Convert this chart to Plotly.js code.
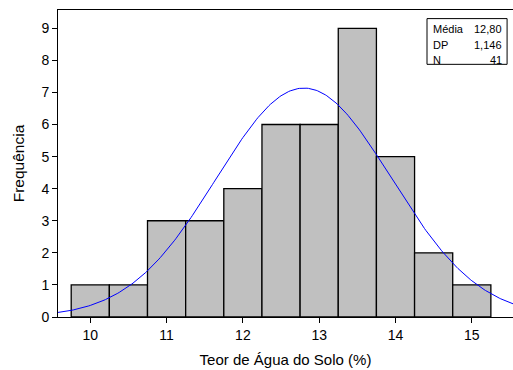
<!DOCTYPE html>
<html>
<head>
<meta charset="utf-8">
<script src="https://cdn.plot.ly/plotly-3.0.1.min.js"></script>
<style>
  html, body { margin: 0; padding: 0; background: #fff; }
  #chart { width: 513px; height: 370px; }
</style>
</head>
<body>
<div id="chart"></div>
<script>
// Histogram of soil water content (%) with fitted normal curve
const binCenters = [10, 10.5, 11, 11.5, 12, 12.5, 13, 13.5, 14, 14.5, 15];
const counts     = [1, 1, 3, 3, 4, 6, 6, 9, 5, 2, 1];
const binWidth = 0.5;

// Summary statistics shown in the box
const statLabels = ['Média', 'DP', 'N'];
const statValues = ['12,80', '1,146', '41'];
const mean = 12.80;
const sd = 1.146;
const n = 41;

const xTicks = [10, 11, 12, 13, 14, 15];
const yTicks = [0, 1, 2, 3, 4, 5, 6, 7, 8, 9];

// Normal density scaled to counts per bin
const curveX = [];
const curveY = [];
for (let x = 9.5; x <= 15.7; x += 0.02) {
  const z = (x - mean) / sd;
  curveX.push(x);
  curveY.push(n * binWidth * Math.exp(-0.5 * z * z) / (sd * Math.sqrt(2 * Math.PI)));
}

const font = 'Liberation Sans, Arial, Helvetica, sans-serif';

const traces = [
  {
    type: 'bar',
    x: binCenters,
    y: counts,
    width: binWidth,
    marker: { color: '#c0c0c0', line: { color: '#000', width: 1.3 } },
    hoverinfo: 'x+y'
  },
  {
    type: 'scatter',
    mode: 'lines',
    x: curveX,
    y: curveY,
    line: { color: '#0000ff', width: 1 },
    hoverinfo: 'skip'
  }
];

const annotations = [];
const rowY = [0.937, 0.887, 0.838];
statLabels.forEach((lab, i) => {
  annotations.push({
    xref: 'paper', yref: 'paper', x: 0.82, y: rowY[i],
    xanchor: 'left', yanchor: 'middle', showarrow: false,
    text: lab, font: { family: font, size: 11, color: '#000' }
  });
  annotations.push({
    xref: 'paper', yref: 'paper', x: 0.98, y: rowY[i],
    xanchor: 'right', yanchor: 'middle', showarrow: false,
    text: statValues[i], font: { family: font, size: 11, color: '#000' }
  });
});

const layout = {
  width: 513,
  height: 370,
  margin: { l: 58, r: 0, t: 10, b: 53 },
  paper_bgcolor: '#fff',
  plot_bgcolor: '#fff',
  showlegend: false,
  bargap: 0,
  font: { family: font, size: 14, color: '#000' },
  xaxis: {
    range: [9.577, 15.54],
    tickvals: xTicks,
    ticktext: xTicks.map(String),
    ticks: 'outside', ticklen: 5, tickwidth: 1, tickcolor: '#000',
    showgrid: false, zeroline: false,
    showline: true, linecolor: '#000', linewidth: 1, mirror: true,
    tickfont: { family: font, size: 14 },
    title: { text: 'Teor de Água do Solo (%)', font: { family: font, size: 15 }, standoff: 12 }
  },
  yaxis: {
    range: [0, 9.57],
    tickvals: yTicks,
    ticktext: yTicks.map(String),
    ticks: 'outside', ticklen: 5, tickwidth: 1, tickcolor: '#000',
    showgrid: false, zeroline: false,
    showline: true, linecolor: '#000', linewidth: 1,
    tickfont: { family: font, size: 14 },
    title: { text: 'Frequência', font: { family: font, size: 15.5 }, standoff: 12 }
  },
  shapes: [
    {
      type: 'rect', xref: 'paper', yref: 'paper',
      x0: 0.811, x1: 0.987, y0: 0.823, y1: 0.972,
      line: { color: '#000', width: 1 }, fillcolor: '#fff'
    }
  ],
  annotations: annotations
};

Plotly.newPlot('chart', traces, layout, { staticPlot: true, displayModeBar: false });
</script>
</body>
</html>
